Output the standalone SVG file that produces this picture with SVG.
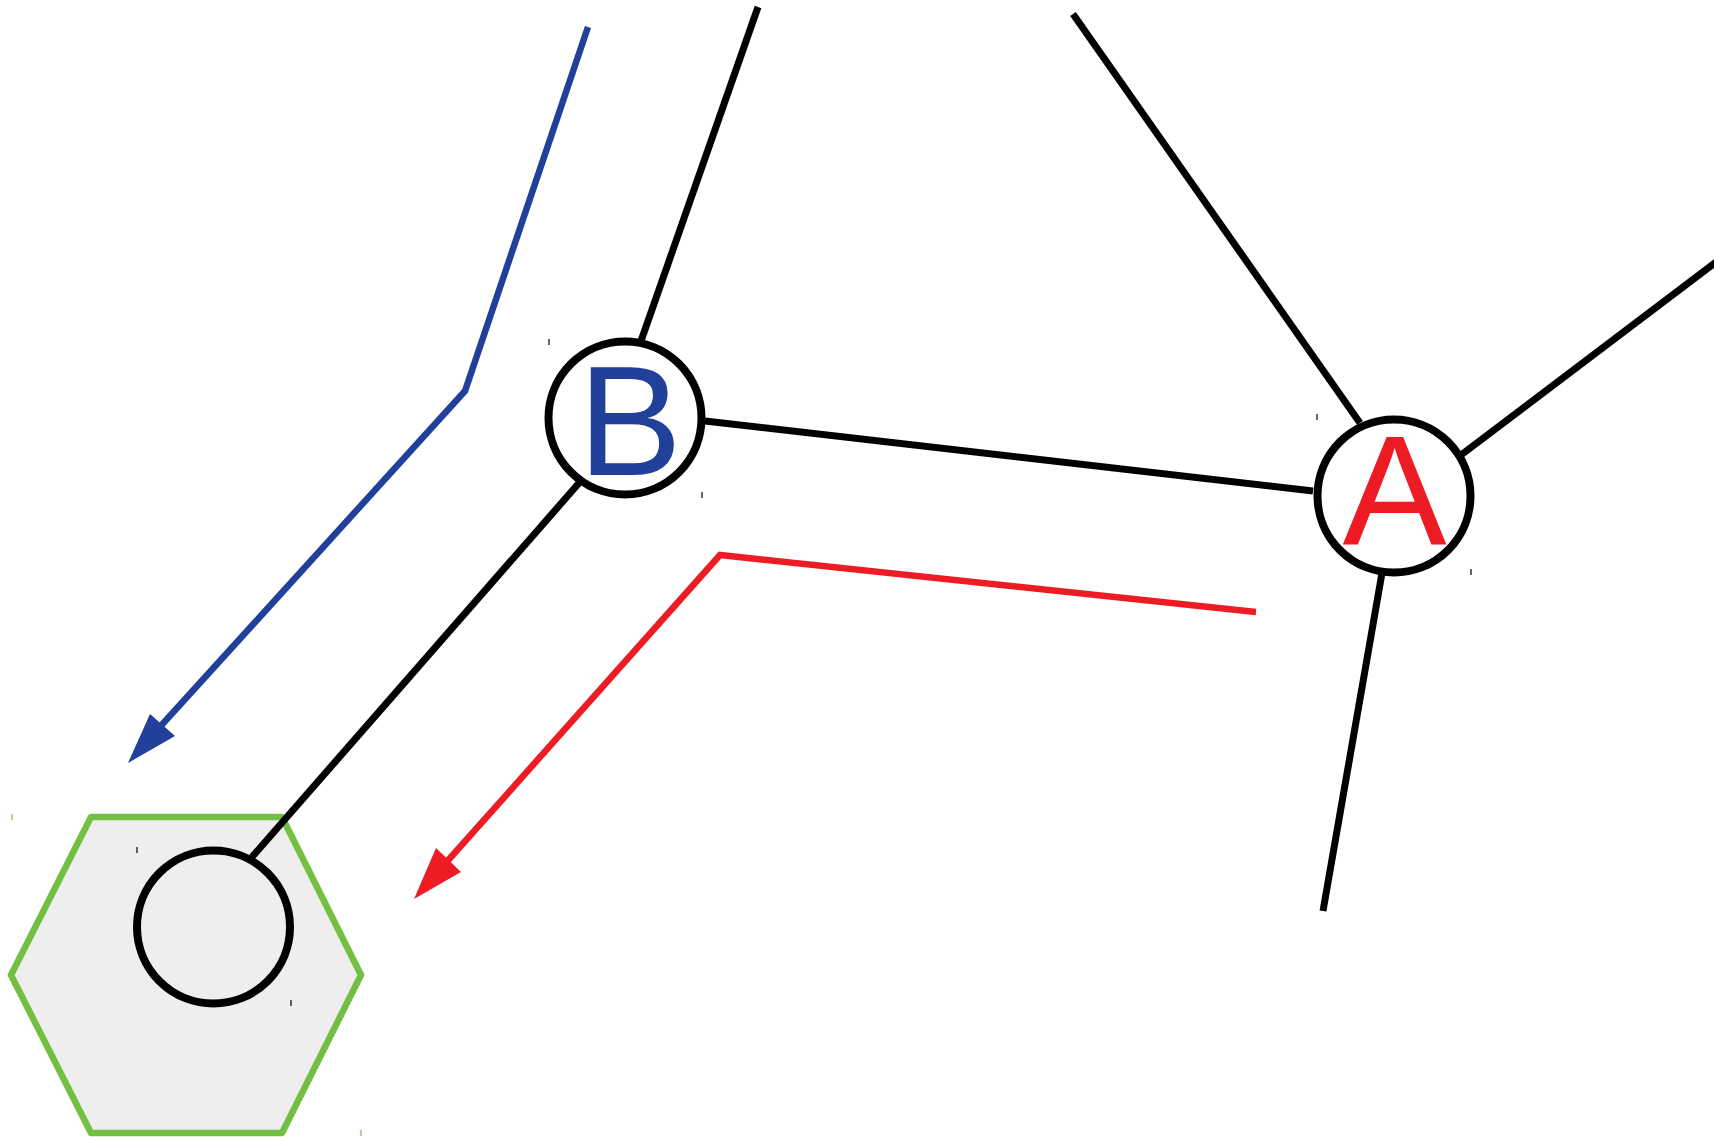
<svg xmlns="http://www.w3.org/2000/svg" width="1714" height="1137" viewBox="0 0 1714 1137">
<style>
.edge{fill:none;stroke:#000;stroke-width:7}
.blue{fill:none;stroke:#21409a;stroke-width:6.5}
.red{fill:none;stroke:#ed1c24;stroke-width:6.5}
.node{fill:#fff;stroke:#000;stroke-width:8}
.lbl{font-family:"Liberation Sans",Arial,sans-serif;font-size:156px;text-anchor:middle}
.tick{stroke:#000;stroke-width:1.2}
</style>
<rect width="1714" height="1137" fill="#fff"/>
<g id="node-hex">
  <polygon points="91,817 282,817 361,975 282,1133 91,1133 11,975" fill="#eeeeee" stroke="#72bf44" stroke-width="6.5" stroke-linejoin="round"/>
  <circle cx="213.5" cy="927" r="76.5" fill="none" stroke="#000" stroke-width="8"/>
  <line class="tick" x1="137" y1="847" x2="137" y2="853"/>
  <line class="tick" x1="291" y1="1000" x2="291" y2="1006"/>
  <line x1="12" y1="814" x2="12" y2="820" stroke="#72bf44" stroke-width="1.2"/>
  <line x1="361" y1="1130" x2="361" y2="1136" stroke="#72bf44" stroke-width="1.2"/>
</g>
<g id="connectors">
  <line class="edge" x1="641" y1="341" x2="758" y2="7"/>
  <line class="edge" x1="705" y1="421" x2="1313" y2="491"/>
  <line class="edge" x1="579" y1="483" x2="252" y2="857"/>
  <line class="edge" x1="1073" y1="14" x2="1360" y2="423"/>
  <line class="edge" x1="1461" y1="455" x2="1716" y2="262"/>
  <line class="edge" x1="1382" y1="573" x2="1323" y2="911"/>
  <polyline class="blue" points="588,27 465,391 158,729"/>
  <polygon points="128,763 150,714 175,736" fill="#21409a"/>
  <polyline class="red" points="1256,612 720,555 443,866"/>
  <polygon points="414,899 436,848 461,872" fill="#ed1c24"/>
</g>
<g id="node-B">
  <circle class="node" cx="625" cy="418" r="76.5"/>
  <text class="lbl" x="630" y="475" fill="#21409a">B</text>
  <line class="tick" x1="549" y1="339" x2="549" y2="345"/>
  <line class="tick" x1="702" y1="492" x2="702" y2="498"/>
</g>
<g id="node-A">
  <circle class="node" cx="1394" cy="496" r="76.5"/>
  <text class="lbl" x="1394.5" y="544" fill="#ed1c24">A</text>
  <line class="tick" x1="1317" y1="414" x2="1317" y2="420"/>
  <line class="tick" x1="1471" y1="569" x2="1471" y2="575"/>
</g>
</svg>
